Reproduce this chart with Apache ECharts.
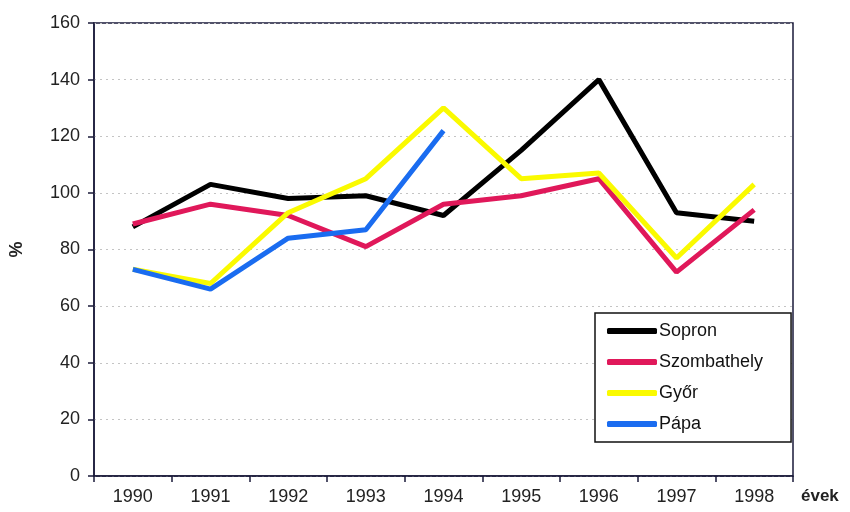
<!DOCTYPE html>
<html>
<head>
<meta charset="utf-8">
<script src="https://cdn.jsdelivr.net/npm/echarts@6/dist/echarts.min.js"></script>
<style>html,body{margin:0;padding:0;background:#fff}#c{width:850px;height:512px}</style>
</head>
<body>
<div id="c"></div>
<script>
var years = ['1990','1991','1992','1993','1994','1995','1996','1997','1998'];
var sopron = [88, 103, 98, 99, 92, 115, 140, 93, 90];
var szombathely = [89, 96, 92, 81, 96, 99, 105, 72, 94];
var gyor = [73, 68, 93, 105, 130, 105, 107, 77, 103];
var papa = [73, 66, 84, 87, 122, null, null, null, null];
var yTicks = [0, 20, 40, 60, 80, 100, 120, 140, 160];

var chart = echarts.init(document.getElementById('c'));
function ser(name, data, color) {
  return {
    name: name, type: 'line', data: data, symbol: 'none',
    lineStyle: { color: color, width: 5 }, itemStyle: { color: color },
    connectNulls: false
  };
}
chart.setOption({
  animation: false,
  textStyle: { fontFamily: 'Liberation Sans, Arial, sans-serif' },
  grid: { left: 92, right: 57, top: 23, bottom: 36, show: true, borderColor: '#1a1a3a', borderWidth: 1.5 },
  legend: {
    orient: 'vertical', left: 595, top: 313,
    icon: 'roundRect', itemWidth: 50, itemHeight: 6, itemGap: 13,
    padding: [9, 28, 9, 12],
    borderColor: '#111', borderWidth: 1.5, backgroundColor: '#fff',
    textStyle: { fontSize: 18, color: '#111', padding: [0, 0, 0, -3] },
    data: ['Sopron', 'Szombathely', 'Győr', 'Pápa']
  },
  xAxis: {
    type: 'category', data: years, boundaryGap: true,
    name: 'évek', nameLocation: 'end', nameGap: 8,
    nameTextStyle: { fontSize: 17, fontWeight: 'bold', color: '#222', verticalAlign: 'top', padding: [12, 0, 0, 0] },
    axisLine: { lineStyle: { color: '#1a1a3a', width: 1.5 } },
    axisTick: { show: true, length: 6, lineStyle: { color: '#1a1a3a', width: 1.5 } },
    axisLabel: { fontSize: 18, color: '#222', margin: 12 }
  },
  yAxis: {
    type: 'value', min: 0, max: 160, interval: 20,
    name: '%', nameLocation: 'middle', nameGap: 68, nameRotate: 90,
    nameTextStyle: { fontSize: 18, fontWeight: 'bold', color: '#222' },
    axisLine: { show: true, lineStyle: { color: '#1a1a3a', width: 1.5 } },
    axisTick: { show: true, length: 6, lineStyle: { color: '#1a1a3a', width: 1.5 } },
    axisLabel: { fontSize: 18, color: '#222', margin: 14,
      formatter: function (v) { return yTicks.indexOf(v) >= 0 ? String(v) : ''; } },
    splitLine: { show: true, lineStyle: { color: '#c4c4c4', type: [2, 4], width: 1.2 } }
  },
  series: [
    ser('Sopron', sopron, '#000000'),
    ser('Szombathely', szombathely, '#e0185a'),
    ser('Győr', gyor, '#fafa00'),
    ser('Pápa', papa, '#1a6cf0')
  ]
});
</script>
</body>
</html>
